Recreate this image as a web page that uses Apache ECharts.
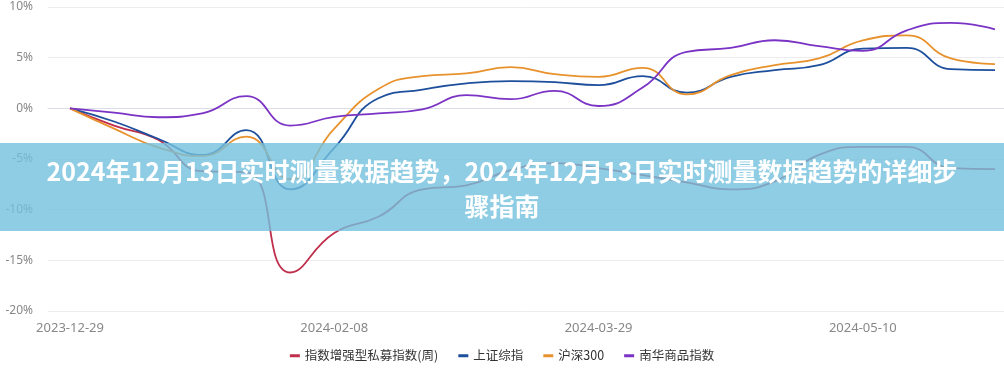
<!DOCTYPE html>
<html>
<head>
<meta charset="utf-8">
<script src="https://cdn.jsdelivr.net/npm/echarts@6/dist/echarts.min.js"></script>
<style>
html,body{margin:0;padding:0;background:#fff;}
#chart{width:1004px;height:375px;}
</style>
</head>
<body>
<div id="chart"></div>
<script>
var categories = ['2023-12-29','2024-01-05','2024-01-12','2024-01-19','2024-01-26','2024-02-02','2024-02-08','2024-02-23','2024-03-01','2024-03-08','2024-03-15','2024-03-22','2024-03-29','2024-04-03','2024-04-12','2024-04-19','2024-04-26','2024-04-30','2024-05-10','2024-05-17','2024-05-24','2024-05-31'];
var seriesNames = ['指数增强型私募指数(周)','上证综指','沪深300','南华商品指数'];
var privateIdx = [0,-1.7,-3.1,-6.2,-6.3,-16.2,-12.3,-10.7,-8.0,-7.6,-6.1,-5.4,-5.9,-6.6,-7.3,-8.0,-7.2,-4.6,-3.8,-3.8,-5.9,-6.0];
var shIdx = [0,-1.3,-3.0,-4.6,-2.15,-8.0,-3.9,1.0,1.85,2.46,2.69,2.59,2.29,3.18,1.55,3.1,3.77,4.26,5.9,5.96,3.87,3.77];
var hs300 = [0,-2.0,-3.85,-4.7,-2.8,-7.0,-2.0,1.9,3.18,3.44,4.06,3.38,3.11,4.0,1.38,3.28,4.26,4.92,6.7,7.2,4.92,4.36];
var nanhua = [0,-0.43,-0.88,-0.5,1.2,-1.7,-0.85,-0.5,-0.1,1.3,0.9,1.73,0.23,2.05,5.57,5.96,6.72,6.13,5.67,7.7,8.43,7.8];
var yTicks = {min:-20, max:10, interval:5};
var titleText = '2024年12月13日实时测量数据趋势，2024年12月13日实时测量数据趋势的详细步\n骤指南';
var colors = ['#bf2f4c','#1d4f9c','#e8922e','#7a33c4'];

var chart = echarts.init(document.getElementById('chart'), null, {renderer:'canvas'});
var dataSets = [privateIdx, shIdx, hs300, nanhua];
chart.setOption({
  animation:false,
  color: colors,
  grid:{left:48, right:-13, top:7, bottom:64, containLabel:false, outerBoundsMode:'none'},
  legend:{
    bottom:8, left:'center', icon:'rect', itemWidth:10, itemHeight:3, itemGap:20,
    textStyle:{color:'#333', fontSize:12.5, fontFamily:'"Noto Sans CJK SC", sans-serif'},
    data: seriesNames
  },
  xAxis:{
    type:'category', boundaryGap:true, data:categories,
    axisLine:{lineStyle:{color:'#dcdde6'}},
    axisTick:{show:false},
    axisLabel:{interval:5, color:'#888', fontSize:13, margin:11, fontFamily:'"Noto Sans", sans-serif'},
    splitLine:{show:false}
  },
  yAxis:{
    type:'value', min:yTicks.min, max:yTicks.max, interval:yTicks.interval,
    axisLine:{show:false}, axisTick:{show:false},
    axisLabel:{formatter:'{value}%', color:'#888', fontSize:12, margin:15, fontFamily:'"Noto Sans", sans-serif'},
    splitLine:{lineStyle:{color:'#ececf0'}}
  },
  series: seriesNames.map(function(n,i){
    return {name:n, type:'line', smooth:true, symbol:'none', data:dataSets[i],
      lineStyle:{width:1.8, color:colors[i]}, itemStyle:{color:colors[i]}};
  }),
  graphic:[
    {type:'rect', left:0, top:143, z:100, shape:{width:1004, height:88}, style:{fill:'rgba(115,192,221,0.8)'}},
    {type:'text', x:502, y:189, z:101, style:{text:titleText, fill:'#fff', font:'bold 25px "Noto Sans CJK SC", sans-serif', align:'center', verticalAlign:'middle', lineHeight:35}}
  ]
});
</script>
</body>
</html>
